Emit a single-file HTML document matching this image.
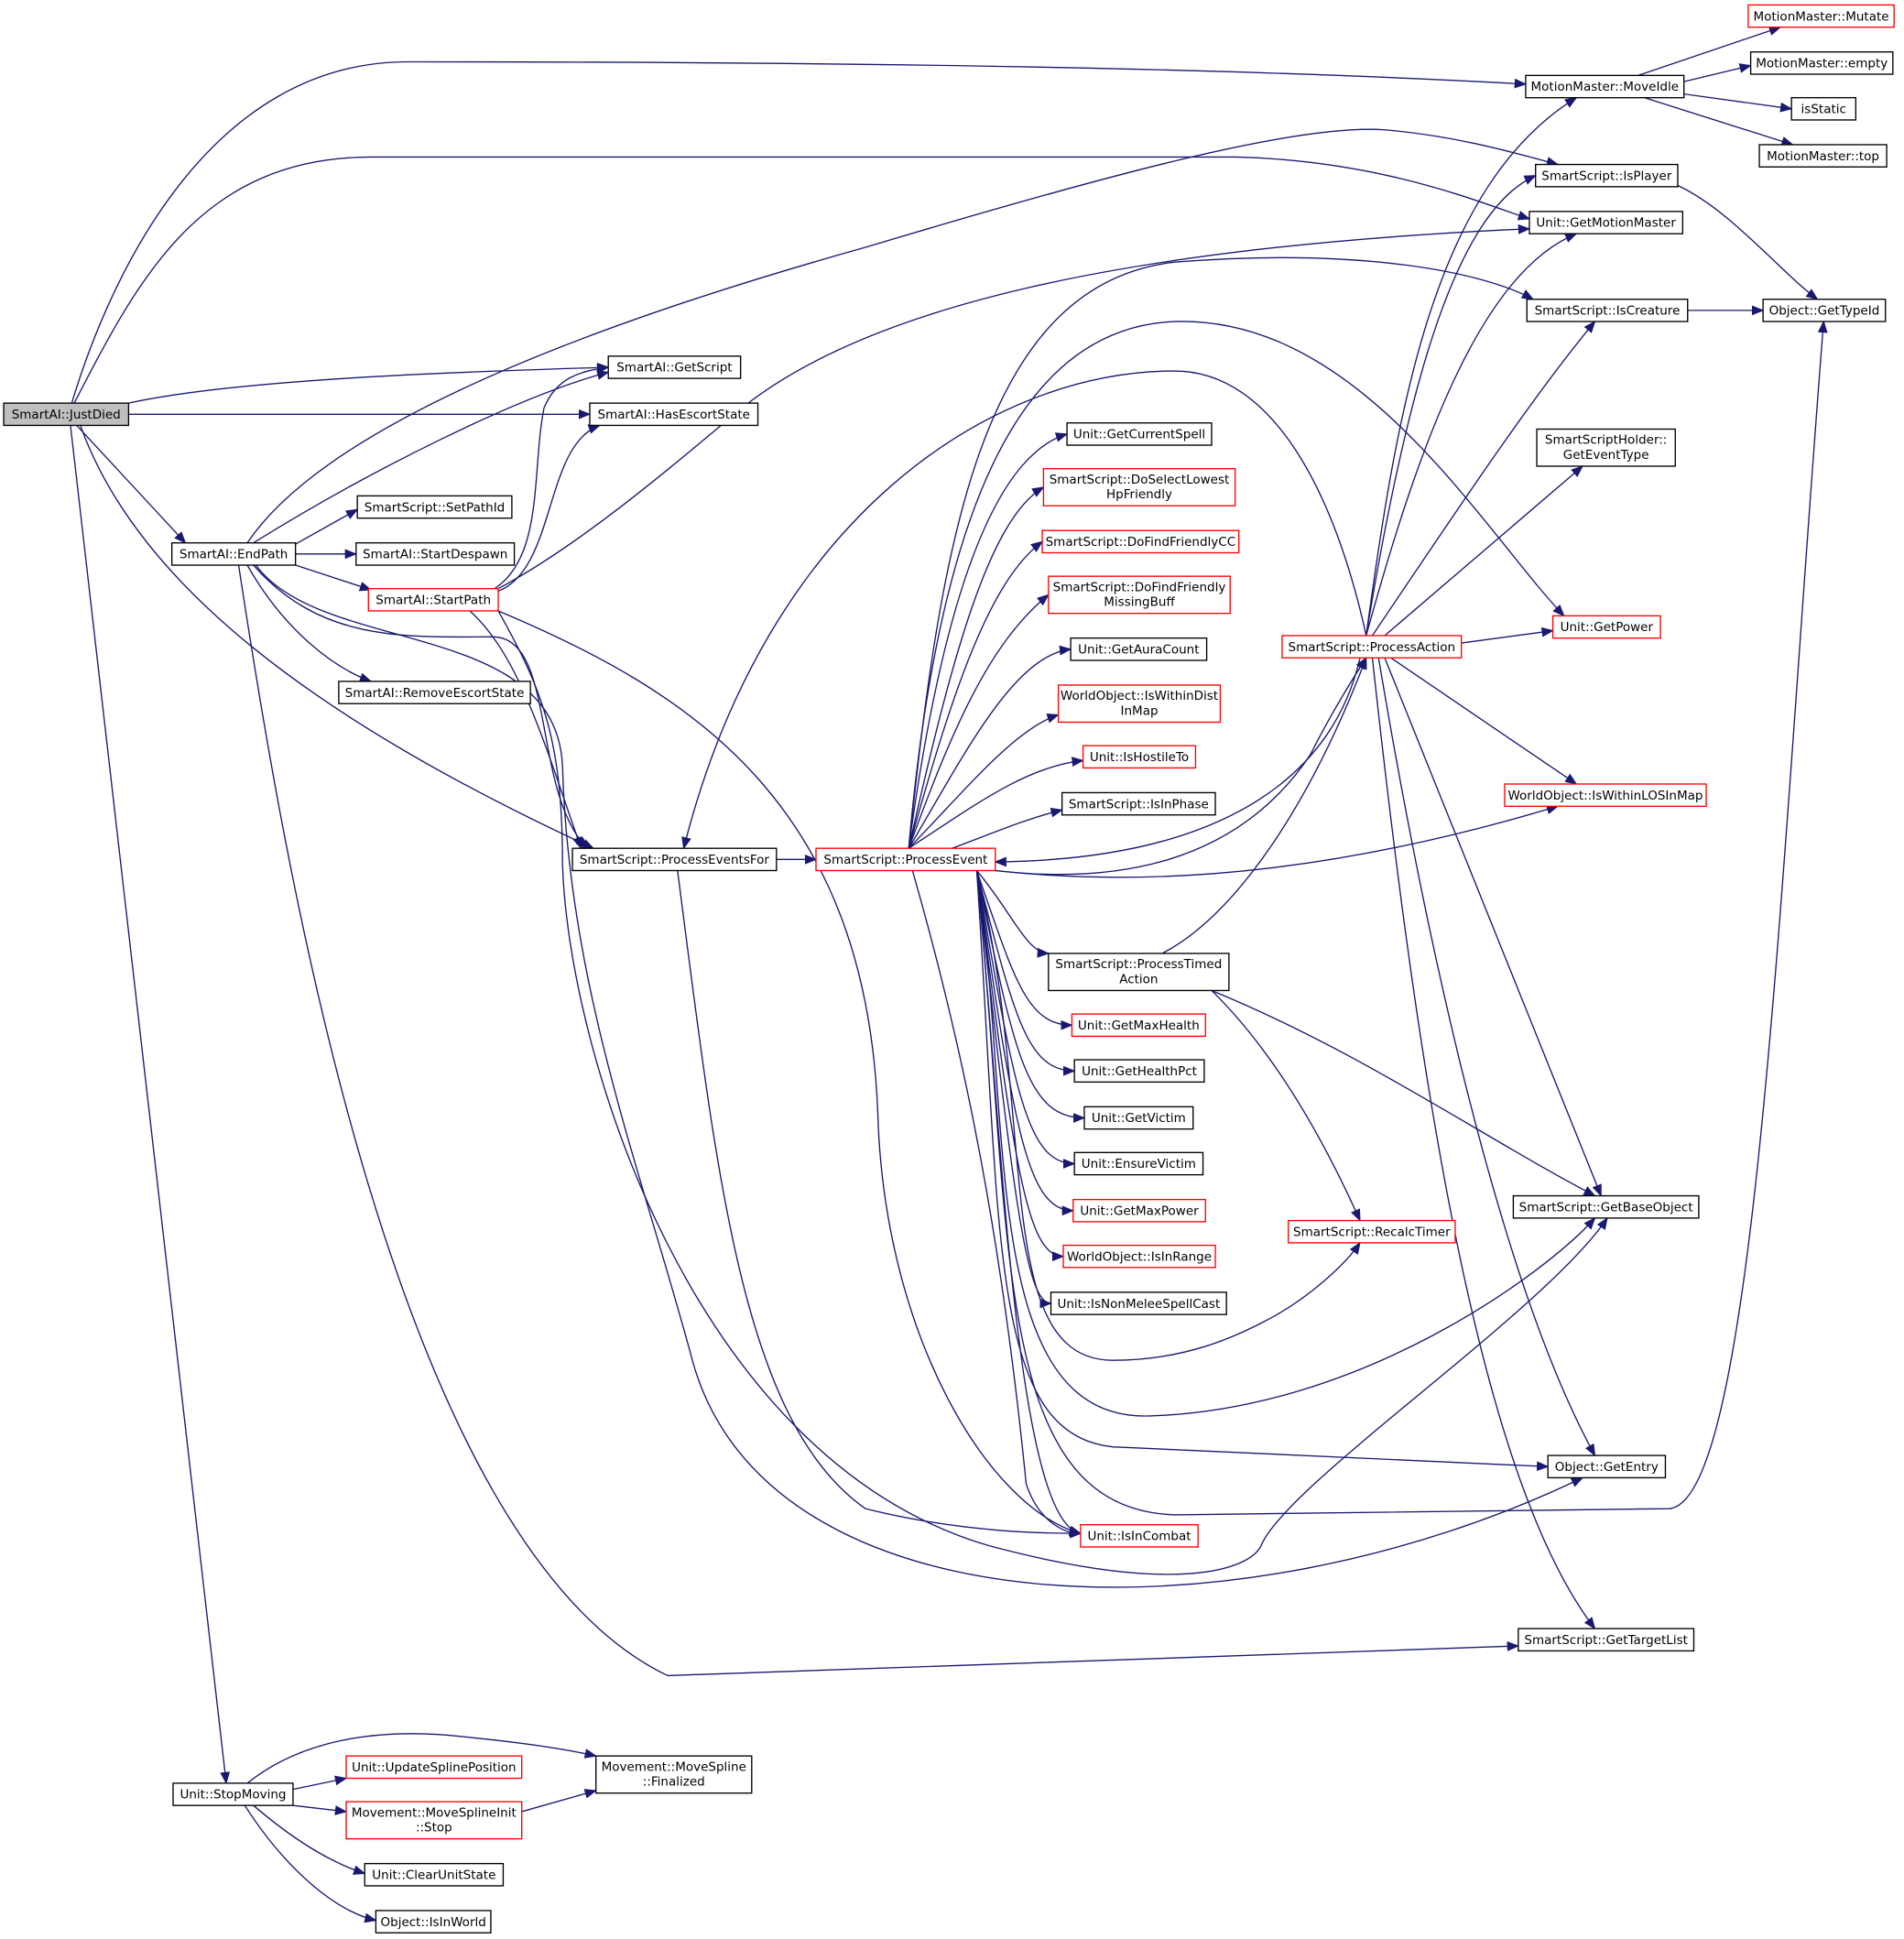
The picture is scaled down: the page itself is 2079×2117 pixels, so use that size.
<!DOCTYPE html>
<html><head><meta charset="utf-8"><style>
html,body{margin:0;padding:0;background:#fff;}
svg{display:block;}
text{font-family:"DejaVu Sans","Liberation Sans",sans-serif;font-size:10px;fill:#000;}
.n{fill:#fff;stroke:#000;stroke-width:1;}
.r{fill:#fff;stroke:#ff0000;stroke-width:1;}
.e{fill:none;stroke:#191970;stroke-width:1;marker-end:url(#a);}
</style></head><body>
<svg width="2079" height="2117" viewBox="0 0 1540 1568" preserveAspectRatio="none" xmlns="http://www.w3.org/2000/svg">
<defs><marker id="a" markerWidth="10" markerHeight="8" refX="9" refY="4" orient="auto" markerUnits="userSpaceOnUse"><path d="M0,0 L10,4 L0,8 z" fill="#191970"/></marker></defs>
<rect width="1540" height="1568" fill="#fff"/>
<g>
<!-- JustDied -->
<path class="e" d="M58,326 C90,220 170,50 330,50 C700,50 1000,55 1234,68"/>
<path class="e" d="M60,326 C110,230 160,127 300,127 L1000,127 C1120,130 1200,165 1237,177"/>
<path class="e" d="M104,326 C200,305 400,300 492,297"/>
<path class="e" d="M104,335 L477,335"/>
<path class="e" d="M62,344 L150,439"/>
<path class="e" d="M65,344 C110,470 250,580 480,686"/>
<path class="e" d="M57,344 L183,1442"/>
<!-- EndPath -->
<path class="e" d="M200,439 C260,350 450,270 700,200 C900,140 1050,100 1120,105 C1180,110 1230,125 1260,133"/>
<path class="e" d="M205,439 C300,380 420,320 492,301"/>
<path class="e" d="M239,440 L289,412"/>
<path class="e" d="M239,448 L288,448"/>
<path class="e" d="M239,457 L300,477"/>
<path class="e" d="M200,457 C230,510 270,540 300,551"/>
<path class="e" d="M205,457 C260,520 330,515 400,515 C450,518 430,640 475,686"/>
<path class="e" d="M193,457 C230,700 320,1250 540,1355 L1228,1331"/>
<path class="e" d="M207,457 C260,530 450,500 455,620 C460,800 520,950 560,1100 C620,1320 1000,1330 1280,1195"/>
<!-- StartPath -->
<path class="e" d="M400,476 C440,450 430,380 440,330 C450,305 470,300 492,297"/>
<path class="e" d="M403,478 C450,460 440,360 485,344"/>
<path class="e" d="M403,476 C470,440 540,380 600,330 C700,250 900,200 1237,185"/>
<path class="e" d="M380,494 C420,530 440,600 470,686"/>
<path class="e" d="M403,494 C560,560 700,650 710,900 C715,1080 800,1220 874,1240"/>
<path class="e" d="M403,494 C440,560 455,600 455,700 C460,850 560,1180 800,1250 C950,1290 1010,1270 1020,1250 C1040,1200 1250,1060 1300,985"/>
<!-- ProcessEventsFor -->
<path class="e" d="M628,695 L660,695"/>
<path class="e" d="M548,704 C580,950 600,1150 700,1220 C780,1240 850,1240 874,1240"/>
<!-- ProcessEvent up fan -->
<path class="e" d="M735,686 C760,500 800,370 863,351"/>
<path class="e" d="M735,686 C770,530 800,420 844,394"/>
<path class="e" d="M735,686 C770,560 800,470 843,438"/>
<path class="e" d="M735,686 C770,590 800,520 848,481"/>
<path class="e" d="M735,686 C780,610 820,530 866,525"/>
<path class="e" d="M735,686 C780,640 820,590 856,578"/>
<path class="e" d="M735,686 C790,650 830,620 876,615"/>
<path class="e" d="M770,686 C800,675 830,662 859,655"/>
<path class="e" d="M735,686 C760,450 790,230 950,212 C1100,200 1200,220 1240,242"/>
<path class="e" d="M735,686 C760,400 830,265 950,260 C1100,255 1200,430 1265,498"/>
<path class="e" d="M1105,514 C1080,400 1030,300 950,300 C800,300 620,420 553,686"/>
<path class="e" d="M805,704 C900,715 1000,700 1060,610 C1080,570 1100,540 1105,532"/>
<path class="e" d="M1100,532 C1080,620 1000,695 805,697"/>
<path class="e" d="M805,704 C950,720 1100,700 1260,652"/>
<!-- ProcessEvent down fan -->
<path class="e" d="M790,704 C820,740 830,770 848,771"/>
<path class="e" d="M790,704 C820,790 830,829 867,829"/>
<path class="e" d="M790,704 C820,820 830,866 869,866"/>
<path class="e" d="M790,704 C820,850 830,904 877,904"/>
<path class="e" d="M790,704 C820,880 830,941 869,941"/>
<path class="e" d="M790,704 C820,910 830,979 868,979"/>
<path class="e" d="M790,704 C820,940 830,1016 860,1016"/>
<path class="e" d="M790,704 C820,970 830,1054 850,1054"/>
<path class="e" d="M790,704 C840,900 800,1100 900,1100 C960,1100 1000,1080 1020,1070 C1060,1050 1090,1020 1100,1005"/>
<path class="e" d="M790,704 C820,900 790,1150 930,1145 C1100,1140 1250,1030 1290,985"/>
<path class="e" d="M790,704 C810,1000 800,1160 900,1170 L1252,1186"/>
<path class="e" d="M790,704 C820,1000 800,1220 950,1225 L1350,1220 C1420,1215 1440,700 1475,260"/>
<path class="e" d="M790,704 C810,900 820,1230 874,1240"/>
<path class="e" d="M738,704 C780,850 810,1000 830,1200 C840,1230 860,1240 874,1240"/>
<!-- ProcessTimedAction -->
<path class="e" d="M940,771 C1000,740 1060,650 1105,532"/>
<path class="e" d="M980,801 C1030,850 1070,920 1100,987"/>
<path class="e" d="M980,801 C1100,850 1200,920 1290,967"/>
<!-- ProcessAction -->
<path class="e" d="M1105,514 C1130,330 1160,150 1275,79"/>
<path class="e" d="M1105,514 C1140,300 1180,170 1242,142"/>
<path class="e" d="M1105,514 C1150,350 1200,220 1275,189"/>
<path class="e" d="M1110,514 C1180,410 1240,320 1290,260"/>
<path class="e" d="M1120,514 L1280,377"/>
<path class="e" d="M1182,520 L1256,510"/>
<path class="e" d="M1125,532 L1275,634"/>
<path class="e" d="M1120,532 L1295,967"/>
<path class="e" d="M1115,532 C1160,800 1220,1050 1290,1177"/>
<path class="e" d="M1110,532 C1150,900 1200,1200 1290,1317"/>
<!-- MoveIdle etc -->
<path class="e" d="M1325,61 L1440,22"/>
<path class="e" d="M1362,66 L1416,53"/>
<path class="e" d="M1362,76 L1449,88"/>
<path class="e" d="M1330,79 L1450,117"/>
<path class="e" d="M1357,150 C1400,170 1440,220 1470,242"/>
<path class="e" d="M1365,251 L1426,251"/>
<!-- StopMoving -->
<path class="e" d="M200,1442 C240,1410 300,1395 380,1405 C430,1410 460,1415 482,1420"/>
<path class="e" d="M237,1447 L280,1438"/>
<path class="e" d="M237,1460 L280,1465"/>
<path class="e" d="M205,1460 C240,1490 270,1507 295,1515"/>
<path class="e" d="M198,1460 C230,1510 270,1545 304,1553"/>
<path class="e" d="M422,1465 L482,1448"/>
</g>
<g>
<rect x="3" y="326" width="101" height="18" fill="#bfbfbf" stroke="#000"/><text x="53.5" y="338.5" text-anchor="middle">SmartAI::JustDied</text>
<rect class="n" x="492" y="288" width="107" height="18"/><text x="545.5" y="300.5" text-anchor="middle">SmartAI::GetScript</text>
<rect class="n" x="477" y="326" width="136" height="18"/><text x="545" y="338.5" text-anchor="middle">SmartAI::HasEscortState</text>
<rect class="n" x="139" y="439" width="100" height="18"/><text x="189" y="451.5" text-anchor="middle">SmartAI::EndPath</text>
<rect class="n" x="289" y="401" width="125" height="18"/><text x="351.5" y="413.5" text-anchor="middle">SmartScript::SetPathId</text>
<rect class="n" x="288" y="439" width="128" height="18"/><text x="352" y="451.5" text-anchor="middle">SmartAI::StartDespawn</text>
<rect class="r" x="298" y="476" width="105" height="18"/><text x="350.5" y="488.5" text-anchor="middle">SmartAI::StartPath</text>
<rect class="n" x="274" y="551" width="155" height="18"/><text x="351.5" y="563.5" text-anchor="middle">SmartAI::RemoveEscortState</text>
<rect class="n" x="463" y="686" width="165" height="18"/><text x="545.5" y="698.5" text-anchor="middle">SmartScript::ProcessEventsFor</text>
<rect class="r" x="660" y="686" width="145" height="18"/><text x="732.5" y="698.5" text-anchor="middle">SmartScript::ProcessEvent</text>
<rect class="n" x="140" y="1442" width="97" height="18"/><text x="188.5" y="1454.5" text-anchor="middle">Unit::StopMoving</text>
<rect class="r" x="280" y="1420" width="142" height="18"/><text x="351" y="1432.5" text-anchor="middle">Unit::UpdateSplinePosition</text>
<rect class="r" x="280" y="1457" width="142" height="30"/><text x="351" y="1469" text-anchor="middle">Movement::MoveSplineInit</text><text x="351" y="1481" text-anchor="middle">::Stop</text>
<rect class="n" x="482" y="1420" width="126" height="30"/><text x="545" y="1432" text-anchor="middle">Movement::MoveSpline</text><text x="545" y="1444" text-anchor="middle">::Finalized</text>
<rect class="n" x="295" y="1507" width="112" height="18"/><text x="351" y="1519.5" text-anchor="middle">Unit::ClearUnitState</text>
<rect class="n" x="304" y="1545" width="93" height="18"/><text x="350.5" y="1557.5" text-anchor="middle">Object::IsInWorld</text>
<rect class="n" x="863" y="342" width="117" height="18"/><text x="921.5" y="354.5" text-anchor="middle">Unit::GetCurrentSpell</text>
<rect class="r" x="844" y="379" width="155" height="30"/><text x="921.5" y="391" text-anchor="middle">SmartScript::DoSelectLowest</text><text x="921.5" y="403" text-anchor="middle">HpFriendly</text>
<rect class="r" x="843" y="429" width="159" height="18"/><text x="922.5" y="441.5" text-anchor="middle">SmartScript::DoFindFriendlyCC</text>
<rect class="r" x="848" y="466" width="147" height="30"/><text x="921.5" y="478" text-anchor="middle">SmartScript::DoFindFriendly</text><text x="921.5" y="490" text-anchor="middle">MissingBuff</text>
<rect class="n" x="866" y="516" width="110" height="18"/><text x="921" y="528.5" text-anchor="middle">Unit::GetAuraCount</text>
<rect class="r" x="856" y="554" width="131" height="30"/><text x="921.5" y="566" text-anchor="middle">WorldObject::IsWithinDist</text><text x="921.5" y="578" text-anchor="middle">InMap</text>
<rect class="r" x="876" y="603" width="91" height="18"/><text x="921.5" y="615.5" text-anchor="middle">Unit::IsHostileTo</text>
<rect class="n" x="859" y="641" width="124" height="18"/><text x="921" y="653.5" text-anchor="middle">SmartScript::IsInPhase</text>
<rect class="n" x="848" y="771" width="146" height="30"/><text x="921" y="783" text-anchor="middle">SmartScript::ProcessTimed</text><text x="921" y="795" text-anchor="middle">Action</text>
<rect class="r" x="867" y="820" width="108" height="18"/><text x="921" y="832.5" text-anchor="middle">Unit::GetMaxHealth</text>
<rect class="n" x="869" y="857" width="105" height="18"/><text x="921.5" y="869.5" text-anchor="middle">Unit::GetHealthPct</text>
<rect class="n" x="877" y="895" width="88" height="18"/><text x="921" y="907.5" text-anchor="middle">Unit::GetVictim</text>
<rect class="n" x="869" y="932" width="104" height="18"/><text x="921" y="944.5" text-anchor="middle">Unit::EnsureVictim</text>
<rect class="r" x="868" y="970" width="107" height="18"/><text x="921.5" y="982.5" text-anchor="middle">Unit::GetMaxPower</text>
<rect class="r" x="860" y="1007" width="123" height="18"/><text x="921.5" y="1019.5" text-anchor="middle">WorldObject::IsInRange</text>
<rect class="n" x="850" y="1045" width="142" height="18"/><text x="921" y="1057.5" text-anchor="middle">Unit::IsNonMeleeSpellCast</text>
<rect class="r" x="874" y="1233" width="95" height="18"/><text x="921.5" y="1245.5" text-anchor="middle">Unit::IsInCombat</text>
<rect class="r" x="1037" y="514" width="145" height="18"/><text x="1109.5" y="526.5" text-anchor="middle">SmartScript::ProcessAction</text>
<rect class="r" x="1042" y="987" width="135" height="18"/><text x="1109.5" y="999.5" text-anchor="middle">SmartScript::RecalcTimer</text>
<rect class="n" x="1234" y="61" width="128" height="18"/><text x="1298" y="73.5" text-anchor="middle">MotionMaster::MoveIdle</text>
<rect class="r" x="1414" y="4" width="118" height="18"/><text x="1473" y="16.5" text-anchor="middle">MotionMaster::Mutate</text>
<rect class="n" x="1416" y="42" width="115" height="18"/><text x="1473.5" y="54.5" text-anchor="middle">MotionMaster::empty</text>
<rect class="n" x="1449" y="79" width="52" height="18"/><text x="1475" y="91.5" text-anchor="middle">isStatic</text>
<rect class="n" x="1423" y="117" width="103" height="18"/><text x="1474.5" y="129.5" text-anchor="middle">MotionMaster::top</text>
<rect class="n" x="1242" y="133" width="115" height="18"/><text x="1299.5" y="145.5" text-anchor="middle">SmartScript::IsPlayer</text>
<rect class="n" x="1237" y="171" width="124" height="18"/><text x="1299" y="183.5" text-anchor="middle">Unit::GetMotionMaster</text>
<rect class="n" x="1235" y="242" width="130" height="18"/><text x="1300" y="254.5" text-anchor="middle">SmartScript::IsCreature</text>
<rect class="n" x="1426" y="242" width="99" height="18"/><text x="1475.5" y="254.5" text-anchor="middle">Object::GetTypeId</text>
<rect class="n" x="1243" y="347" width="112" height="30"/><text x="1299" y="359" text-anchor="middle">SmartScriptHolder::</text><text x="1299" y="371" text-anchor="middle">GetEventType</text>
<rect class="r" x="1256" y="498" width="87" height="18"/><text x="1299.5" y="510.5" text-anchor="middle">Unit::GetPower</text>
<rect class="r" x="1217" y="634" width="163" height="18"/><text x="1298.5" y="646.5" text-anchor="middle">WorldObject::IsWithinLOSInMap</text>
<rect class="n" x="1224" y="967" width="150" height="18"/><text x="1299" y="979.5" text-anchor="middle">SmartScript::GetBaseObject</text>
<rect class="n" x="1252" y="1177" width="95" height="18"/><text x="1299.5" y="1189.5" text-anchor="middle">Object::GetEntry</text>
<rect class="n" x="1228" y="1317" width="142" height="18"/><text x="1299" y="1329.5" text-anchor="middle">SmartScript::GetTargetList</text>
</g>
</svg>
</body></html>
